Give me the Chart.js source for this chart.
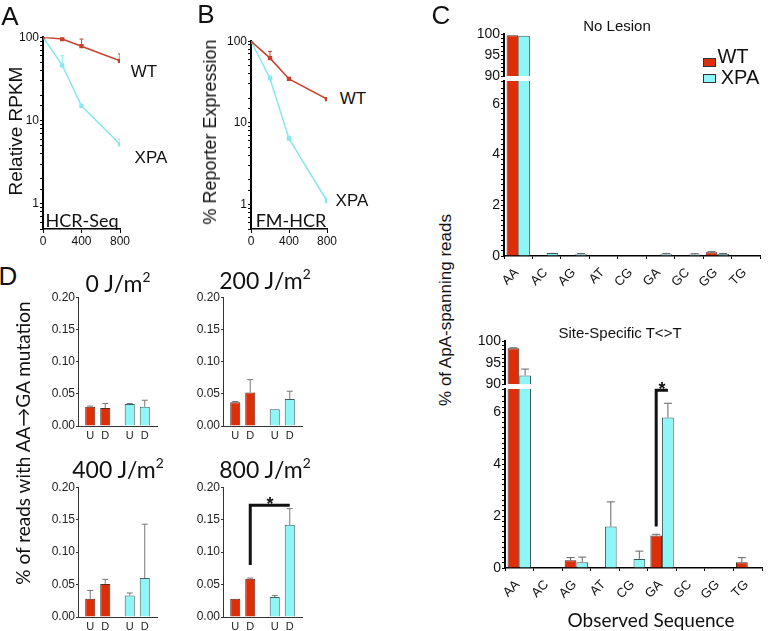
<!DOCTYPE html>
<html>
<head>
<meta charset="utf-8">
<script src="https://cdn.jsdelivr.net/npm/chart.js@4.4.1/dist/chart.umd.min.js"></script>
<style>
	body { margin: 0; background: #fff; width: 768px; height: 631px; position: relative; overflow: hidden; font-family: "Liberation Sans", Arial, sans-serif; color: #111; }
	.box { position: absolute; }
	.t { position: absolute; white-space: nowrap; line-height: 1; transform: translate(-50%, -50%); }
	.r { transform: translate(-50%, -50%) rotate(-90deg); }
	.cal { font-family: Lato, "Open Sans", sans-serif; }
	.lg { position: absolute; width: 11px; height: 7px; border: 1px solid #333; }
	.slant { position: absolute; white-space: nowrap; line-height: 1; font-size: 13px; transform-origin: 100% 50%; transform: translate(-100%, -50%) rotate(-45deg); }
	sup { font-size: 0.6em; vertical-align: 0.7em; line-height: 0; }
</style>
</head>
<body>
<div class="box" style="left:11px;top:29px;width:121px;height:220px"><canvas id="chartA"></canvas></div>
<div class="box" style="left:219px;top:33px;width:120px;height:216px"><canvas id="chartB"></canvas></div>
<div class="box" style="left:468px;top:25px;width:298px;height:65px"><canvas id="noLesionTop"></canvas></div>
<div class="box" style="left:468px;top:67px;width:298px;height:221px"><canvas id="noLesionBottom"></canvas></div>
<div class="box" style="left:469px;top:332px;width:299px;height:66px"><canvas id="siteTop"></canvas></div>
<div class="box" style="left:469px;top:375px;width:299px;height:225px"><canvas id="siteBottom"></canvas></div>
<div class="box" style="left:48px;top:289px;width:113px;height:151px"><canvas id="uv0"></canvas></div>
<div class="box" style="left:193px;top:289px;width:113px;height:151px"><canvas id="uv200"></canvas></div>
<div class="box" style="left:48px;top:479px;width:113px;height:152px"><canvas id="uv400"></canvas></div>
<div class="box" style="left:193px;top:479px;width:113px;height:152px"><canvas id="uv800"></canvas></div>

<div class="t" style="left:10px;top:16px;font-size:26px">A</div>
<div class="t" style="left:206px;top:14px;font-size:26px">B</div>
<div class="t" style="left:441px;top:15px;font-size:26px">C</div>
<div class="t" style="left:8px;top:276px;font-size:26px">D</div>
<div class="t r" style="left:15px;top:131px;font-size:19px">Relative RPKM</div>
<div class="t r" style="left:210px;top:132px;font-size:18px">% Reporter Expression</div>
<div class="t" style="left:144px;top:71px;font-size:17px">WT</div>
<div class="t" style="left:151px;top:157px;font-size:17px">XPA</div>
<div class="t" style="left:353px;top:98px;font-size:17px">WT</div>
<div class="t" style="left:352px;top:200px;font-size:17px">XPA</div>
<div class="t cal" style="left:82px;top:220px;font-size:18px">HCR-Seq</div>
<div class="t cal" style="left:291px;top:220px;font-size:18px">FM-HCR</div>

<div class="t" style="left:617px;top:25px;font-size:15px">No Lesion</div>
<div class="lg" style="left:703px;top:58px;background:#dd2e0a"></div>
<div class="t" style="left:733px;top:56px;font-size:20px">WT</div>
<div class="lg" style="left:703px;top:74px;background:#8ef6f6"></div>
<div class="t" style="left:740px;top:77px;font-size:20px">XPA</div>
<div class="t" style="left:620px;top:332px;font-size:15px">Site-Specific T&lt;&gt;T</div>
<div class="t r" style="left:445px;top:310px;font-size:17px">% of ApA-spanning reads</div>
<div class="t cal" style="left:651px;top:619px;font-size:19px">Observed Sequence</div>

<div class="t cal" style="left:118px;top:283px;font-size:23px">0 J/m<sup>2</sup></div>
<div class="t cal" style="left:265px;top:280px;font-size:23px">200 J/m<sup>2</sup></div>
<div class="t cal" style="left:118px;top:469px;font-size:23px">400 J/m<sup>2</sup></div>
<div class="t cal" style="left:265px;top:469px;font-size:23px">800 J/m<sup>2</sup></div>
<div class="t r cal" style="left:22px;top:443px;font-size:19px">% of reads with AA→GA mutation</div>

<script>
// panels A and B: UV dose (J/m2)
const doses = [0, 200, 400, 800];
const rpkmWT = [100, 95, 78, 52];
const rpkmWTErr = [0, 0, 17, 11];
const rpkmXPA = [100, 46, 15, 5.2];
const rpkmXPAErr = [0, 14, 0, 0.8];
const reporterWT = [100, 62, 34.5, 19.5];
const reporterWTErr = [0, 13, 1.5, 0];
const reporterXPA = [100, 35, 6.4, 1.1];
const reporterXPAErr = [0, 2.5, 0.4, 0.1];

// panel C
const seqs = ["AA", "AC", "AG", "AT", "CG", "GA", "GC", "GG", "TG"];
const noLesionWT = [99.8, 0, 0, 0, 0, 0, 0, 0.15, 0];
const noLesionWTErr = [0, 0, 0, 0, 0, 0, 0, 0.02, 0];
const noLesionXPA = [99.7, 0.12, 0.07, 0, 0, 0.07, 0.06, 0.08, 0];
const noLesionXPAErr = [0, 0, 0.03, 0, 0, 0.03, 0.03, 0.02, 0];
const siteWT = [98.4, 0, 0.3, 0, 0, 1.25, 0, 0, 0.22];
const siteWTErr = [0.1, 0, 0.1, 0, 0, 0.05, 0, 0, 0.18];
const siteXPA = [92, 0, 0.22, 1.6, 0.35, 5.8, 0, 0, 0];
const siteXPAErr = [1.5, 0, 0.2, 0.95, 0.3, 0.55, 0, 0, 0];

// panel D: per genotype, [U, D]
const genotypes = ["WT", "XPA"];
const strands = ["U", "D"];
const uv0WT = [0.030, 0.028];
const uv0WTErr = [0.001, 0.007];
const uv0XPA = [0.034, 0.030];
const uv0XPAErr = [0.001, 0.010];
const uv200WT = [0.037, 0.052];
const uv200WTErr = [0.001, 0.020];
const uv200XPA = [0.026, 0.042];
const uv200XPAErr = [0, 0.012];
const uv400WT = [0.028, 0.051];
const uv400WTErr = [0.013, 0.007];
const uv400XPA = [0.033, 0.060];
const uv400XPAErr = [0.004, 0.083];
const uv800WT = [0.028, 0.059];
const uv800WTErr = [0, 0.001];
const uv800XPA = [0.031, 0.142];
const uv800XPAErr = [0.002, 0.025];

const RED = "#dd2e0a";
const CYAN = "#8ef6f6";
const RED_LINE = "#c8402e";
const CYAN_LINE = "#86e8ef";
const tickFont = { family: "'Liberation Sans', Arial, sans-serif", size: 12 };

const errorBars = {
	id: "errorBars",
	afterDatasetsDraw(chart) {
		const ctx = chart.ctx;
		const area = chart.chartArea;
		ctx.save();
		ctx.beginPath();
		ctx.rect(area.left, area.top - 3, area.right - area.left, area.bottom - area.top + 3);
		ctx.clip();
		chart.data.datasets.forEach((ds, di) => {
			if (!ds.errors) return;
			const meta = chart.getDatasetMeta(di);
			const ys = chart.scales[meta.yAxisID];
			meta.data.forEach((el, i) => {
				const e = ds.errors[i];
				const raw = ds.data[i];
				if (!e || raw == null) return;
				const v = typeof raw === "object" ? raw.y : raw;
				const y0 = ys.getPixelForValue(v);
				const y1 = ys.getPixelForValue(v + e);
				const w = ds.capWidth || 3;
				ctx.strokeStyle = ds.errorColor || "#666";
				ctx.lineWidth = 1;
				ctx.beginPath();
				ctx.moveTo(el.x, y0);
				ctx.lineTo(el.x, y1);
				ctx.moveTo(el.x - w, y1);
				ctx.lineTo(el.x + w, y1);
				ctx.stroke();
			});
		});
		ctx.restore();
	},
};

// significance bracket: up from one bar, across to another, star on top
const bracket = {
	id: "bracket",
	afterDatasetsDraw(chart, args, opts) {
		if (!opts || !opts.from) return;
		const ctx = chart.ctx;
		const a = chart.getDatasetMeta(opts.from[0]).data[opts.from[1]];
		const b = chart.getDatasetMeta(opts.to[0]).data[opts.to[1]];
		const ys = chart.scales.y;
		const y0 = ys.getPixelForValue(opts.start);
		const y1 = ys.getPixelForValue(opts.level);
		ctx.save();
		ctx.strokeStyle = "#111";
		ctx.lineWidth = 3;
		ctx.beginPath();
		ctx.moveTo(a.x, y0);
		ctx.lineTo(a.x, y1);
		ctx.lineTo(b.x, y1);
		ctx.stroke();
		ctx.fillStyle = "#111";
		ctx.font = "bold 18px 'Liberation Sans', Arial";
		ctx.textAlign = "center";
		ctx.textBaseline = "alphabetic";
		ctx.fillText("*", (a.x + b.x) / 2, y1 + 5);
		ctx.restore();
	},
};

// category labels slanted at 45 degrees under the x axis, placed as page text at the scale's ticks
const slantLabels = {
	id: "slantLabels",
	afterDraw(chart, args, opts) {
		if (!opts || !opts.show) return;
		const xs = chart.scales.x;
		const box = chart.canvas.getBoundingClientRect();
		if (!chart.$slant) {
			chart.$slant = chart.data.labels.map((lab) => {
				const d = document.createElement("div");
				d.className = "slant";
				d.textContent = lab;
				document.body.appendChild(d);
				return d;
			});
		}
		chart.$slant.forEach((d, i) => {
			d.style.left = (box.left + xs.getPixelForValue(i) - 2) + "px";
			d.style.top = (box.top + xs.top + 14) + "px";
		});
	},
};

// strand letter under every bar of panel D
const barTicks = {
	id: "barTicks",
	afterDraw(chart) {
		const ctx = chart.ctx;
		const xs = chart.scales.x;
		ctx.save();
		ctx.font = "11px 'Liberation Sans', Arial";
		ctx.fillStyle = "#222";
		ctx.textAlign = "center";
		ctx.textBaseline = "top";
		chart.data.datasets.forEach((ds, di) => {
			chart.getDatasetMeta(di).data.forEach((el) => ctx.fillText(ds.label, el.x, xs.top + 4));
		});
		ctx.restore();
	},
};

function lineChart(id, wt, wtErr, xpa, xpaErr) {
	const points = (vals) => doses.map((d, i) => ({ x: d, y: vals[i] }));
	const style = (c) => ({ borderColor: c, backgroundColor: c, errorColor: c, pointStyle: "rect", pointRadius: 2, borderWidth: 1.5, capWidth: 2 });
	new Chart(document.getElementById(id), {
		type: "line",
		data: {
			datasets: [
				{ data: points(wt), errors: wtErr, ...style(RED_LINE) },
				{ data: points(xpa), errors: xpaErr, ...style(CYAN_LINE) },
			],
		},
		options: {
			responsive: true,
			maintainAspectRatio: false,
			animation: false,
			layout: { padding: { left: 0, top: 8, right: 12, bottom: 0 } },
			plugins: { legend: { display: false }, tooltip: { enabled: false } },
			scales: {
				x: {
					type: "linear", min: 0, max: 800,
					ticks: { stepSize: 400, font: tickFont, color: "#111", padding: 1, maxRotation: 0 },
					grid: { drawOnChartArea: false, tickLength: 4, color: "#000" },
					border: { color: "#000", width: 1.5 },
					afterFit: (s) => { s.height = 20; },
				},
				y: {
					type: "logarithmic", min: 0.5, max: 100,
					ticks: {
						autoSkip: false, font: tickFont, color: "#111", padding: 1,
						callback: (v) => {
							const l = Math.log10(v);
							return Math.abs(l - Math.round(l)) < 1e-9 ? String(Math.round(v)) : "";
						},
					},
					grid: { drawOnChartArea: false, tickLength: 3, color: "#000" },
					border: { color: "#000", width: 2 },
					afterFit: (s) => { s.width = 32; },
				},
			},
		},
		plugins: [errorBars],
	});
}

function seqPart(id, wt, wtErr, xpa, xpaErr, upper, br) {
	const yOpts = upper
		? { min: 90, max: 100, ticks: { stepSize: 1, callback: (v) => (v % 5 === 0 ? String(v) : "") } }
		: {
			min: 0, max: 6.9,
			ticks: {
				stepSize: 0.2,
				callback: (v) => {
					const r = Math.round(v);
					return Math.abs(v - r) < 1e-6 && r % 2 === 0 ? String(r) : "";
				},
			},
		};
	new Chart(document.getElementById(id), {
		type: "bar",
		data: {
			labels: seqs,
			datasets: [
				{ data: wt, errors: wtErr, backgroundColor: RED, borderColor: "#4a2a20", borderWidth: 1, clip: 0, capWidth: 4 },
				{ data: xpa, errors: xpaErr, backgroundColor: CYAN, borderColor: "#3a5a5c", borderWidth: 1, clip: 0, capWidth: 4 },
			],
		},
		options: {
			responsive: true,
			maintainAspectRatio: false,
			animation: false,
			categoryPercentage: 0.82,
			barPercentage: 1,
			layout: { padding: { left: 0, top: upper ? 8 : 14, right: 6, bottom: upper ? 14 : 0 } },
			plugins: { legend: { display: false }, tooltip: { enabled: false }, bracket: br, slantLabels: { show: !upper } },
			scales: {
				x: {
					display: !upper,
					ticks: { display: false },
					grid: { drawOnChartArea: false, tickLength: 3, color: "#000", offset: true },
					border: { color: "#000", width: 1.5 },
					afterFit: (s) => { s.height = upper ? 0 : 32; },
				},
				y: {
					...yOpts,
					ticks: { ...yOpts.ticks, autoSkip: false, font: { ...tickFont, size: 14 }, color: "#111", padding: 1 },
					grid: { drawOnChartArea: false, tickLength: 3, color: "#000" },
					border: { color: "#000", width: 2 },
					afterFit: (s) => { s.width = 36; },
				},
			},
		},
		plugins: [errorBars, bracket, slantLabels],
	});
}

function uvChart(id, wt, wtErr, xpa, xpaErr, br) {
	new Chart(document.getElementById(id), {
		type: "bar",
		data: {
			labels: genotypes,
			datasets: strands.map((s, k) => ({
				label: s,
				data: [wt[k], xpa[k]],
				errors: [wtErr[k], xpaErr[k]],
				backgroundColor: [RED, CYAN],
				borderColor: ["#5a2a1a", "#3f5f60"],
				borderWidth: 1,
				clip: 0,
				capWidth: 3,
				errorColor: "#777",
			})),
		},
		options: {
			responsive: true,
			maintainAspectRatio: false,
			animation: false,
			categoryPercentage: 0.76,
			barPercentage: 0.67,
			layout: { padding: { left: 0, top: 8, right: 4, bottom: 0 } },
			plugins: { legend: { display: false }, tooltip: { enabled: false }, bracket: br },
			scales: {
				x: {
					ticks: { display: false },
					grid: { display: false },
					border: { color: "#333", width: 1 },
					afterFit: (s) => { s.height = 14; },
				},
				y: {
					min: 0, max: 0.2,
					ticks: { stepSize: 0.05, font: tickFont, color: "#222", padding: 1, callback: (v) => v.toFixed(2) },
					grid: { drawOnChartArea: false, tickLength: 2, color: "#333" },
					border: { color: "#333", width: 1 },
					afterFit: (s) => { s.width = 30; },
				},
			},
		},
		plugins: [errorBars, bracket, barTicks],
	});
}

lineChart("chartA", rpkmWT, rpkmWTErr, rpkmXPA, rpkmXPAErr);
lineChart("chartB", reporterWT, reporterWTErr, reporterXPA, reporterXPAErr);
seqPart("noLesionTop", noLesionWT, noLesionWTErr, noLesionXPA, noLesionXPAErr, true);
seqPart("noLesionBottom", noLesionWT, noLesionWTErr, noLesionXPA, noLesionXPAErr, false);
seqPart("siteTop", siteWT, siteWTErr, siteXPA, siteXPAErr, true);
seqPart("siteBottom", siteWT, siteWTErr, siteXPA, siteXPAErr, false,
	{ from: [0, 5], to: [1, 5], start: 1.6, level: 6.85 });
uvChart("uv0", uv0WT, uv0WTErr, uv0XPA, uv0XPAErr);
uvChart("uv200", uv200WT, uv200WTErr, uv200XPA, uv200XPAErr);
uvChart("uv400", uv400WT, uv400WTErr, uv400XPA, uv400XPAErr);
uvChart("uv800", uv800WT, uv800WTErr, uv800XPA, uv800XPAErr, { from: [1, 0], to: [1, 1], start: 0.08, level: 0.172 });
</script>
</body>
</html>
